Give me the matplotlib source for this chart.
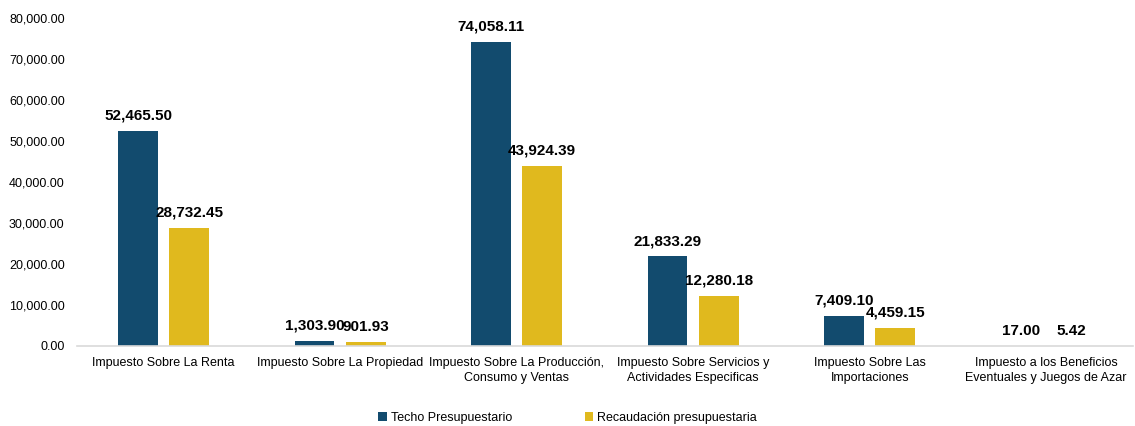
import numpy as np
import matplotlib.pyplot as plt
from matplotlib.ticker import FuncFormatter

plt.rcParams['font.family'] = ['Liberation Sans', 'DejaVu Sans']

categorias = ['Impuesto Sobre La Renta',
              'Impuesto Sobre La Propiedad',
              'Impuesto Sobre La Producción,\nConsumo y Ventas',
              'Impuesto Sobre Servicios y\nActividades Especificas',
              'Impuesto Sobre Las\nImportaciones',
              'Impuesto a los Beneficios\nEventuales y Juegos de Azar']
techo = [52465.50, 1303.90, 74058.11, 21833.29, 7409.10, 17.00]
recaudacion = [28732.45, 901.93, 43924.39, 12280.18, 4459.15, 5.42]

azul = '#124B6E'
amarillo = '#E0B91E'

fig = plt.figure(figsize=(11.35, 4.26), dpi=100)
ax = fig.add_axes([0.068, 0.188, 0.93, 0.77])

x = np.arange(len(categorias))
w = 0.225
b1 = ax.bar(x - 0.145, techo, w, color=azul, label='Techo Presupuestario')
b2 = ax.bar(x + 0.145, recaudacion, w, color=amarillo, label='Recaudación presupuestaria')

for bars in (b1, b2):
    for r in bars:
        h = r.get_height()
        ax.annotate('{:,.2f}'.format(h), (r.get_x() + r.get_width() / 2, h),
                    xytext=(0, 6), textcoords='offset points',
                    ha='center', va='bottom', fontsize=11, fontweight='bold')

ax.set_xlim(-0.49, len(categorias) - 0.51)
ax.set_ylim(0, 80000)
ax.set_yticks(np.arange(0, 80001, 10000))
ax.yaxis.set_major_formatter(FuncFormatter(lambda v, p: '{:,.2f}'.format(v)))
ax.set_xticks(x)
ax.set_xticklabels(categorias, fontsize=9, linespacing=1.35)
ax.tick_params(axis='both', length=0, labelsize=9)
ax.tick_params(axis='x', pad=8)
ax.tick_params(axis='y', pad=9)

for s in ['top', 'right', 'left']:
    ax.spines[s].set_visible(False)
ax.spines['bottom'].set_color('#D9D9D9')
ax.spines['bottom'].set_linewidth(1.2)

fig.legend(loc='lower center', bbox_to_anchor=(0.5, -0.022), ncol=2, frameon=False,
           fontsize=9, handlelength=0.7, handleheight=0.7, handletextpad=0.3,
           columnspacing=5.8)

fig.savefig('out.png', dpi=100)
